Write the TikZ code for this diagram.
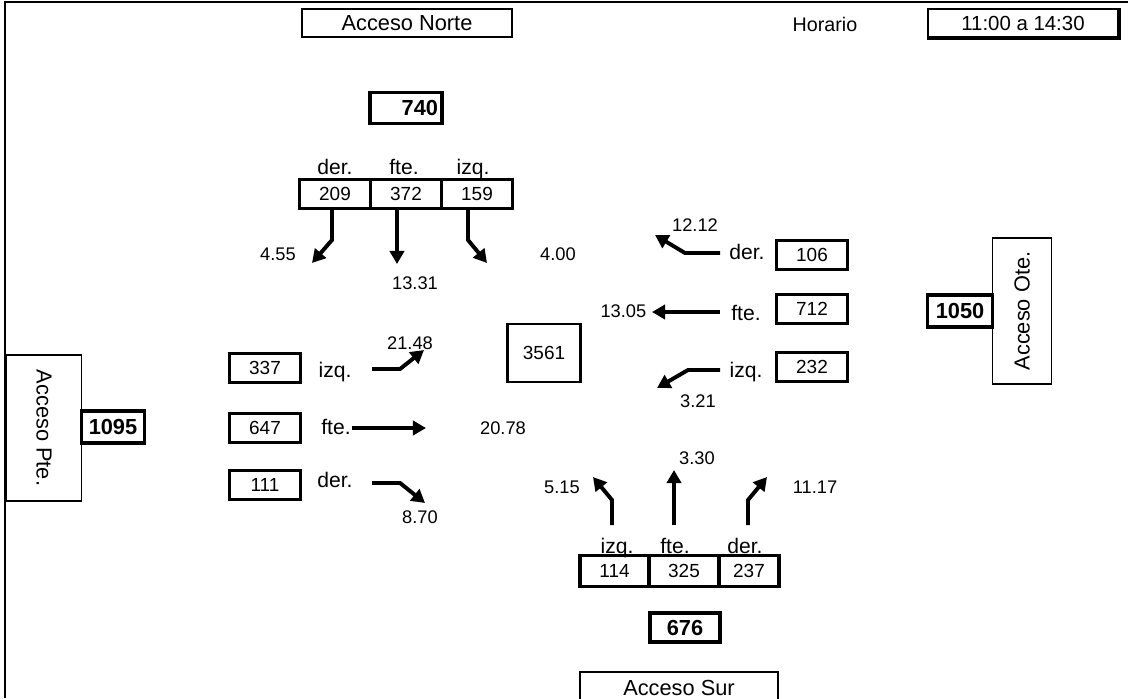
\documentclass[tikz,border=0pt]{standalone}
\usepackage{fontspec}
\setmainfont{Liberation Sans}
\usetikzlibrary{arrows.meta}

\begin{document}
\begin{tikzpicture}[x=0.025cm,y=-0.025cm,
    box/.style={draw,line width=1.1pt,inner sep=0pt,font=\fontsize{15.5}{17}\selectfont},
    cnt/.style={box,line width=2.2pt,minimum width=1.775cm,minimum height=0.72cm,font=\fontsize{13.5}{15}\selectfont},
    tot/.style={cnt,font=\fontsize{15.5}{17}\selectfont\bfseries},
    lbl/.style={anchor=base,font=\fontsize{15}{17}\selectfont},
    val/.style={font=\fontsize{13}{15}\selectfont},
    flow/.style={line width=2.8pt,-{Triangle[length=0.33cm,width=0.36cm]}}]
  \useasboundingbox (0,0) rectangle (1128,698);
  \draw[line width=1.5pt] (5,698) -- (5,2) -- (1128,2);

  % encabezado
  \node[box,minimum width=5.25cm,minimum height=0.7cm] (norte) at (407,23) {Acceso Norte};
  \node[box,draw=none,font=\fontsize{14}{16}\selectfont] (hor) at (825,24) {Horario};
  \node[box,minimum width=4.75cm,minimum height=0.7cm,font=\fontsize{14.5}{16}\selectfont] (hora) at (1023,23) {11:00 a 14:30};
  \draw[line width=2.5pt] (hora.south west) -- (hora.south east) -- (hora.north east);

  % acceso norte
  \node[tot,text width=1.6cm,align=right,inner sep=0.1cm,minimum height=0.775cm] (n740) at (406,108) {740};
  \node[lbl] (nder) at (335,174) {der.};
  \node[lbl] (nfte) at (404,174) {fte.};
  \node[lbl] (nizq) at (473,174) {izq.};
  \node[cnt] (n209) at (335,194) {209};
  \node[cnt] (n372) at (406,194) {372};
  \node[cnt] (n159) at (477,194) {159};
  \coordinate (b209) at (332,240); \coordinate (t209) at (312,263);
  \coordinate (t372) at (397,264);
  \coordinate (b159) at (468,240); \coordinate (t159) at (487,263);
  \draw[flow] (n209.south -| b209) -- (b209) -- (t209);
  \draw[flow] (n372.south -| t372) -- (t372);
  \draw[flow] (n159.south -| b159) -- (b159) -- (t159);
  \node[val] (v209) at (278,254) {4.55};
  \node[val] (v372) at (415,283) {13.31};
  \node[val] (v159) at (558,254) {4.00};

  % acceso oriente
  \node[cnt] (e106) at (812,255) {106};
  \node[cnt] (e712) at (812,309) {712};
  \node[cnt] (e232) at (812,367) {232};
  \node[lbl] (eder) at (747,259) {der.};
  \node[lbl] (efte) at (746,320) {fte.};
  \node[lbl] (eizq) at (746,377) {izq.};
  \coordinate (a106) at (720,253); \coordinate (b106) at (685,253); \coordinate (t106) at (655,235);
  \coordinate (a712) at (720,312); \coordinate (t712) at (652,312);
  \coordinate (a232) at (720,370); \coordinate (b232) at (688,370); \coordinate (t232) at (657,388);
  \draw[flow] (a106) -- (b106) -- (t106);
  \draw[flow] (a712) -- (t712);
  \draw[flow] (a232) -- (b232) -- (t232);
  \node[val] (v106) at (695,225) {12.12};
  \node[val,anchor=east,inner sep=1pt] (v712) at (648,311) {13.05};
  \node[val] (v232) at (698,401) {3.21};
  \node[tot,minimum width=1.625cm,minimum height=0.8cm] (e1050) at (960,311) {1050};
  \node[box,rotate=90,minimum width=3.65cm,minimum height=1.475cm] (ote) at (1022,311) {Acceso Ote.};

  % total
  \node[box,line width=2pt,minimum width=1.825cm,minimum height=1.45cm,font=\fontsize{13.5}{15}\selectfont] (total) at (544,353) {3561};

  % acceso poniente
  \node[cnt] (w337) at (265,368) {337};
  \node[cnt] (w647) at (265,428) {647};
  \node[cnt] (w111) at (265,485) {111};
  \node[lbl] (wizq) at (335,377) {izq.};
  \node[lbl] (wfte) at (336,434) {fte.};
  \node[lbl] (wder) at (335,487) {der.};
  \coordinate (a337) at (372,369); \coordinate (b337) at (400,369); \coordinate (t337) at (424,350);
  \coordinate (a647) at (352,428); \coordinate (t647) at (426,428);
  \coordinate (a111) at (372,483); \coordinate (b111) at (400,483); \coordinate (t111) at (425,503);
  \draw[flow] (a337) -- (b337) -- (t337);
  \draw[flow] (a647) -- (t647);
  \draw[flow] (a111) -- (b111) -- (t111);
  \node[val] (v337) at (410,343) {21.48};
  \node[val] (v647) at (503,428) {20.78};
  \node[val] (v111) at (420,517) {8.70};
  \node[tot,minimum width=1.575cm,minimum height=0.8cm] (w1095) at (113,427) {1095};
  \node[box,rotate=-90,minimum width=3.65cm,minimum height=1.875cm] (pte) at (44,428) {Acceso Pte.};

  % acceso sur
  \node[lbl] (sizq) at (617,553) {izq.};
  \node[lbl] (sfte) at (675,553) {fte.};
  \node[lbl] (sder) at (745,553) {der.};
  \node[cnt,minimum width=1.725cm,minimum height=0.78cm] (s114) at (614.5,571) {114};
  \node[cnt,minimum width=1.75cm,minimum height=0.78cm] (s325) at (684,571) {325};
  \node[cnt,minimum width=1.5cm,minimum height=0.78cm] (s237) at (749,571) {237};
  \coordinate (a114) at (612,525); \coordinate (b114) at (612,500); \coordinate (t114) at (593,477);
  \coordinate (a325) at (674,525); \coordinate (t325) at (674,470);
  \coordinate (a237) at (748,525); \coordinate (b237) at (748,500); \coordinate (t237) at (767,477);
  \draw[flow] (a114) -- (b114) -- (t114);
  \draw[flow] (a325) -- (t325);
  \draw[flow] (a237) -- (b237) -- (t237);
  \node[val] (v114) at (562,487) {5.15};
  \node[val] (v325) at (697,458) {3.30};
  \node[val] (v237) at (815,487) {11.17};
  \node[tot,minimum width=1.75cm,minimum height=0.725cm] (s676) at (685,627.5) {676};
  \node[box,minimum width=4.95cm,minimum height=0.8cm] (sur) at (679,688) {Acceso Sur};
\end{tikzpicture}
\end{document}
